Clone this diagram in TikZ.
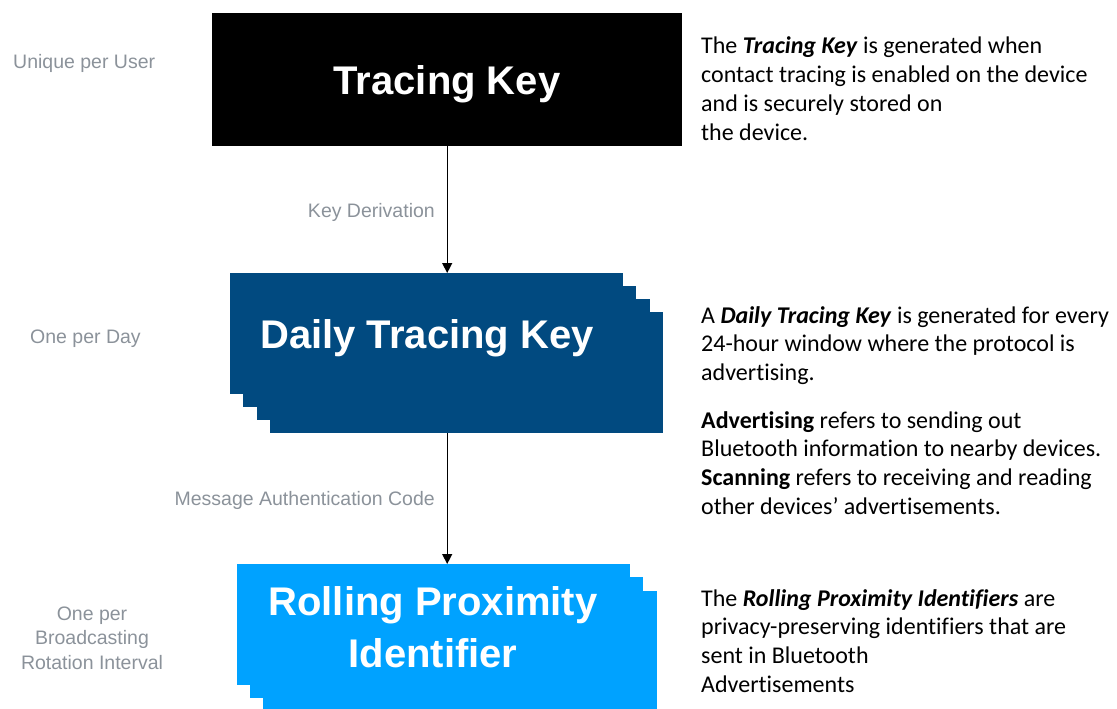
\documentclass[tikz,border=0pt]{standalone}
\usepackage{fontspec}
\setmainfont[Ligatures={NoCommon}]{Carlito}
\newfontfamily\helv{Liberation Sans}
\usetikzlibrary{arrows.meta}
\definecolor{tkblack}{RGB}{0,0,0}
\definecolor{dtkblue}{RGB}{1,74,128}
\definecolor{rpiblue}{RGB}{0,162,255}
\definecolor{labelgray}{RGB}{139,146,154}
\begin{document}
\begin{tikzpicture}[x=1pt,y=-1pt,
  keybox/.style={rectangle, draw=none, inner sep=0pt, anchor=north west},
  bigtext/.style={font=\helv\bfseries\fontsize{40}{52}\selectfont, text=white, inner sep=0pt, align=center},
  sidelabel/.style={font=\helv\fontsize{19.5}{24.5}\selectfont, text=labelgray, inner sep=0pt},
  edgelabel/.style={font=\helv\fontsize{19.5}{24}\selectfont, text=labelgray, inner sep=0pt},
  desc/.style={font=\fontsize{24}{28.7}\selectfont, text=black, inner sep=0pt, anchor=base west},
  flow/.style={line width=1.3pt, draw=black, -{Triangle[length=10pt,width=10pt]}}]
\useasboundingbox (0,0) rectangle (1117,709);

% Tracing Key
\node[keybox, fill=tkblack, minimum width=470pt, minimum height=133pt] (tk) at (212,13) {};
\node[bigtext, anchor=base] (tktext) at (447,95) {Tracing Key};

% Daily Tracing Key stack (4 layers)
\node[keybox, fill=dtkblue, minimum width=393pt, minimum height=121pt] (d3) at (270,312) {};
\node[keybox, fill=dtkblue, minimum width=393pt, minimum height=121pt] (d2) at (257,299) {};
\node[keybox, fill=dtkblue, minimum width=393pt, minimum height=121pt] (d1) at (243,286) {};
\node[keybox, fill=dtkblue, minimum width=393pt, minimum height=121pt] (daily) at (230,273) {};
\node[bigtext, anchor=base] (dailytext) at (427,348) {Daily Tracing Key};

% Rolling Proximity Identifier stack (3 layers)
\node[keybox, fill=rpiblue, minimum width=394pt, minimum height=118pt] (r2) at (263,591) {};
\node[keybox, fill=rpiblue, minimum width=393pt, minimum height=121pt] (r1) at (250,577) {};
\node[keybox, fill=rpiblue, minimum width=393pt, minimum height=121pt] (rpi) at (237,564) {};
\node[bigtext, anchor=base] (rpitext) at (433,615) {\parbox[t]{400pt}{\centering\baselineskip=52pt Rolling Proximity\\Identifier}};

% connectors
\draw[flow] (tk.south) -- (tk.south |- daily.north);
\draw[flow] (tk.south |- d3.south) -- (tk.south |- rpi.north);
\node[edgelabel, anchor=base east] (kd) at (435,217) {Key Derivation};
\node[edgelabel, anchor=base east] (mac) at (435,505) {Message Authentication Code};

% left labels
\node[sidelabel, anchor=base west] (l1) at (13,69) {Unique per User};
\node[sidelabel, anchor=base west] (l2) at (30,343) {One per Day};
\node[sidelabel, anchor=base] (l3) at (92,620) {\parbox[t]{200pt}{\centering\baselineskip=24.5pt One per\\Broadcasting\\Rotation Interval}};

% descriptions
\node[desc] (t1) at (701,54) {\parbox[t]{420pt}{\raggedright\baselineskip=28.7pt
The \textbf{\textit{Tracing Key}} is generated when\\
contact tracing is enabled on the device\\
and is securely stored on\\
the device.}};
\node[desc] (t2) at (701,323) {\parbox[t]{420pt}{\raggedright\baselineskip=28.7pt
A \textbf{\textit{Daily Tracing Key}} is generated for every\\
24-hour window where the protocol is\\
advertising.\\[19pt]
\textbf{Advertising} refers to sending out\\
Bluetooth information to nearby devices.\\
\textbf{Scanning} refers to receiving and reading\\
other devices’ advertisements.}};
\node[desc] (t3) at (701,606) {\parbox[t]{420pt}{\raggedright\baselineskip=28.7pt
The \textbf{\textit{Rolling Proximity Identifiers}} are\\
privacy-preserving identifiers that are\\
sent in Bluetooth\\
Advertisements}};
\end{tikzpicture}
\end{document}
